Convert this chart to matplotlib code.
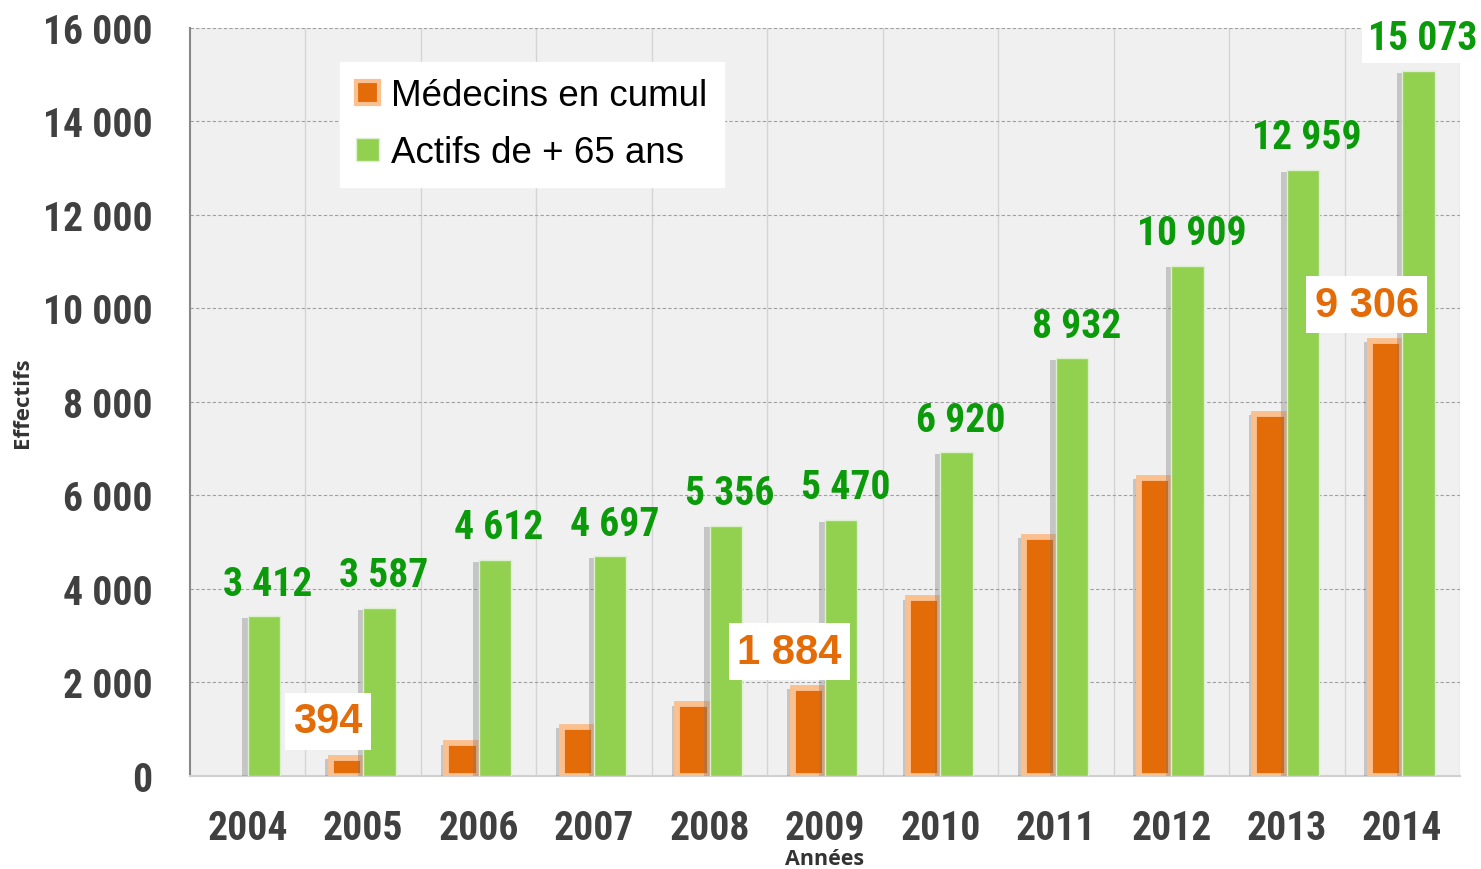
import numpy as np
import matplotlib
matplotlib.use("Agg")
from matplotlib import pyplot as plt
from matplotlib import patheffects as pe
from matplotlib.patches import Patch
from matplotlib.ticker import FuncFormatter

annees = ['2004', '2005', '2006', '2007', '2008', '2009', '2010', '2011', '2012', '2013', '2014']
medecins = [0, 394, 700, 1050, 1530, 1884, 3800, 5120, 6380, 7750, 9306]
actifs65 = [3412, 3587, 4612, 4697, 5356, 5470, 6920, 8932, 10909, 12959, 15073]
labels_medecins = {1: '394', 5: '1 884', 10: '9 306'}

NARROW = ['Roboto Condensed', 'DejaVu Sans']
ORANGE = '#e36c09'
GREEN = '#92d050'
GREEN_TXT = '#0a9a0a'
GREY_TXT = '#404040'


def fmt_milliers(v, pos=None):
    return '{:,.0f}'.format(v).replace(',', ' ')


fig = plt.figure(figsize=(14.81, 8.70), dpi=100)
ax = fig.add_axes([0.1283, 0.1069, 0.8575, 0.8598])
ax.set_facecolor('#f0f0f0')

x = np.arange(len(annees))
w = 0.28
shadow = [pe.SimplePatchShadow(offset=(-4, -1), shadow_rgbFace='#777777', alpha=0.35), pe.Normal()]

bars_o = ax.bar(x - w / 2, medecins, w, color=ORANGE, edgecolor='#fac090', linewidth=4.2, zorder=3)
bars_g = ax.bar(x + w / 2, actifs65, w, color=GREEN, edgecolor='#dcefcf', linewidth=1, zorder=4)
for b in list(bars_o) + list(bars_g):
    if b.get_height() > 0:
        b.set_path_effects(shadow)
    else:
        b.set_linewidth(0)

# valeurs des actifs de + 65 ans
for i, v in enumerate(actifs65):
    bbox = dict(facecolor='white', edgecolor='none', pad=4) if i == len(actifs65) - 1 else None
    ax.annotate(fmt_milliers(v), (x[i] + w / 2, v), xytext=(3, 10), textcoords='offset points',
                ha='center', va='bottom', fontsize=28.5, fontweight='bold', family=NARROW,
                color=GREEN_TXT, bbox=bbox, zorder=6, annotation_clip=False)

# quelques valeurs des médecins en cumul
for i, txt in labels_medecins.items():
    ax.annotate(txt, (x[i] - w / 2, medecins[i]), xytext=(-14, 26), textcoords='offset points',
                ha='center', va='center', fontsize=30, fontweight='bold', family='Liberation Sans',
                color=ORANGE, bbox=dict(facecolor='white', edgecolor='none', pad=6), zorder=6)

ax.set_xlim(-0.5, len(annees) - 0.5)
ax.set_ylim(0, 16000)
ax.set_yticks(np.arange(0, 16001, 2000))
ax.yaxis.set_major_formatter(FuncFormatter(fmt_milliers))
ax.set_xticks(x)
ax.set_xticklabels(annees)

# quadrillage
for xv in np.arange(0.5, len(annees), 1):
    ax.axvline(xv, color='#d4d4d4', linewidth=1, zorder=1)
for yv in np.arange(2000, 16001, 2000):
    ax.axhline(yv, color='#a0a0a0', linewidth=0.8, linestyle=(0, (3, 2)), zorder=1)

for lab in ax.get_xticklabels() + ax.get_yticklabels():
    lab.set_family(NARROW)
    lab.set_fontsize(28.5)
    lab.set_fontweight('bold')
    lab.set_color(GREY_TXT)
ax.tick_params(axis='y', length=0, pad=27)
ax.tick_params(axis='x', length=0, pad=24)

ax.spines['left'].set_color('#888888')
ax.spines['left'].set_linewidth(1.5)
ax.spines['bottom'].set_color('#d0d0d0')
ax.spines['bottom'].set_linewidth(1.5)
ax.spines['top'].set_visible(False)
ax.spines['right'].set_visible(False)

ax.set_ylabel('Effectifs', fontsize=16, fontweight='bold', family='Open Sans', color='#333333')
ax.yaxis.set_label_coords(-0.124, 0.5)
ax.set_xlabel('Années', fontsize=15.5, fontweight='bold', family='Open Sans', color='#333333')
ax.xaxis.set_label_coords(0.5, -0.096)

handles = [Patch(facecolor=ORANGE, edgecolor='#fac090', linewidth=3),
           Patch(facecolor=GREEN, edgecolor='#dcefcf', linewidth=1)]
leg = ax.legend(handles, ['Médecins en cumul', 'Actifs de + 65 ans'], loc='upper left',
                bbox_to_anchor=(0.118, 0.955), frameon=True, fancybox=False, framealpha=1,
                edgecolor='white', prop={'family': 'Liberation Sans', 'size': 26.5},
                handlelength=0.6, handleheight=0.6, handletextpad=0.35, labelspacing=0.6,
                borderpad=0.45, borderaxespad=0)
leg.set_zorder(7)

fig.savefig('out.png', dpi=100)
